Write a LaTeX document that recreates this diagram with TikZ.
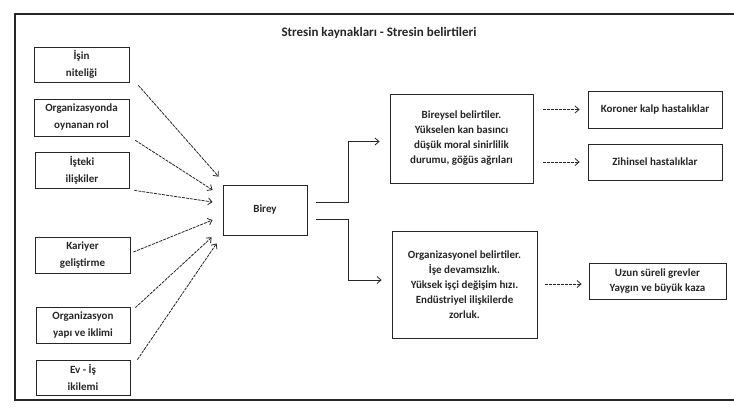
\documentclass[tikz,border=0pt]{standalone}
\usepackage{fontspec}
\setmainfont{Carlito}
\usetikzlibrary{arrows.meta}
\begin{document}
\begin{tikzpicture}[x=1pt,y=-1pt,
  box/.style={draw=black!85, line width=0.8pt, rectangle, align=center, inner sep=1pt,
    font=\bfseries\fontsize{11}{15}\selectfont, text=black!85},
  lbox/.style={box, font=\bfseries\fontsize{11}{17}\selectfont},
  src/.style={draw=black!85, line width=0.8pt, dash pattern=on 3pt off 1pt, -{Straight Barb[length=4pt,width=7pt]}},
  conn/.style={draw=black!85, line width=0.8pt, -{Straight Barb[length=4pt,width=7pt]}},
  arr/.style={draw=black!85, line width=0.8pt, dash pattern=on 3pt off 1pt, -{Straight Barb[length=4pt,width=7pt]}}]
\useasboundingbox (0,0) rectangle (734,410);
\fill[white] (0,0) rectangle (734,410);
\draw[line width=1.2pt, black!85] (734,14) -- (15,14) -- (15,400) -- (734,400);

\node[font=\bfseries\fontsize{13}{15}\selectfont, text=black!85] (title) at (379,33) {Stresin kaynakları - Stresin belirtileri};

\node[lbox, minimum width=95pt, minimum height=35pt] (b1) at (81.5,64.5) {İşin\\niteliği};
\node[lbox, minimum width=95pt, minimum height=37pt] (b2) at (81.5,117.5) {Organizasyonda\\oynanan rol};
\node[lbox, minimum width=94pt, minimum height=36pt] (b3) at (82,170) {İşteki\\ilişkiler};
\node[lbox, minimum width=95pt, minimum height=36pt] (b4) at (82.5,255) {Kariyer\\geliştirme};
\node[lbox, minimum width=94pt, minimum height=36pt] (b5) at (83,325) {Organizasyon\\yapı ve iklimi};
\node[lbox, minimum width=94pt, minimum height=35pt] (b6) at (83,377.5) {Ev - İş\\ikilemi};

\node[box, minimum width=84pt, minimum height=50pt] (birey) at (265,210) {Birey};

\node[box, minimum width=143pt, minimum height=89pt] (bir) at (461.5,138.5) {Bireysel belirtiler.\\Yükselen kan basıncı\\düşük moral sinirlilik\\durumu, göğüs ağrıları};
\node[box, minimum width=145pt, minimum height=107pt] (org) at (464.5,284.5) {Organizasyonel belirtiler.\\İşe devamsızlık.\\Yüksek işçi değişim hızı.\\Endüstriyel ilişkilerde\\zorluk.};

\node[box, minimum width=134pt, minimum height=37pt] (kor) at (655,109.5) {Koroner kalp hastalıklar};
\node[box, minimum width=134pt, minimum height=36pt] (zih) at (655,162) {Zihinsel hastalıklar};
\node[box, minimum width=137pt, minimum height=36pt] (uzun) at (657.5,281) {Uzun süreli grevler\\Yaygın ve büyük kaza};

\draw[src] ([shift={(9,3)}]b1.south east) -- ([shift={(-4,-8)}]birey.north west);
\draw[src] ([shift={(6,4)}]b2.south east) -- ([shift={(-10,-20)}]birey.west);
\draw[src] ([shift={(5,2)}]b3.south east) -- ([shift={(-10,-8)}]birey.west);
\draw[src] ([shift={(3,-3)}]b4.east) -- ([shift={(-10,10)}]birey.west);
\draw[src] ([shift={(5,1)}]b5.north east) -- ([shift={(-11,2)}]birey.south west);
\draw[src] ([shift={(7,0)}]b6.north east) -- ([shift={(-6,8)}]birey.south west);

\coordinate (u1) at ([shift={(9,-8)}]birey.east);
\coordinate (u2) at ([shift={(-10,3)}]bir.west);
\coordinate (l1) at ([shift={(9,9)}]birey.east);
\coordinate (l2) at ([shift={(-10,-4.5)}]org.west);
\draw[conn] (u1) -- ++(32,0) |- (u2);
\draw[conn] (l1) -- ++(32,0) |- (l2);

\draw[arr, shorten <=10pt, shorten >=8pt] (bir.east |- kor.west) -- (kor.west);
\draw[arr, shorten <=10pt, shorten >=8pt] (bir.east |- zih.west) -- (zih.west);
\draw[arr, shorten <=8pt, shorten >=7pt] (org.east |- 0,284) -- (uzun.west |- 0,284);
\end{tikzpicture}
\end{document}
